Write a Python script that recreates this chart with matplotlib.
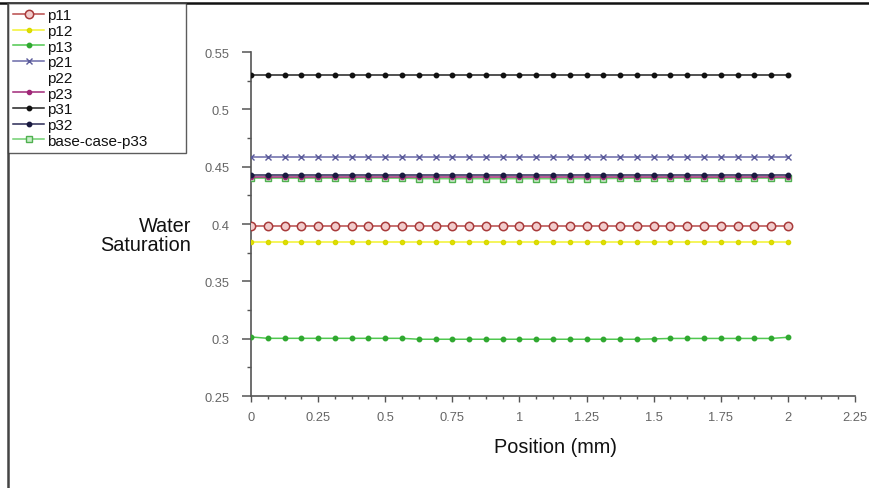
import matplotlib
matplotlib.use("Agg")
import matplotlib.pyplot as plt
from matplotlib.lines import Line2D

plt.rcParams['font.family'] = ['Liberation Sans', 'DejaVu Sans']

position = [0, 0.0625, 0.125, 0.1875, 0.25, 0.3125, 0.375, 0.4375, 0.5, 0.5625,
            0.625, 0.6875, 0.75, 0.8125, 0.875, 0.9375, 1.0, 1.0625, 1.125, 1.1875,
            1.25, 1.3125, 1.375, 1.4375, 1.5, 1.5625, 1.625, 1.6875, 1.75, 1.8125,
            1.875, 1.9375, 2.0]

p11 = [0.398, 0.398, 0.398, 0.398, 0.398, 0.398, 0.398, 0.398, 0.398, 0.398,
       0.398, 0.398, 0.398, 0.398, 0.398, 0.398, 0.398, 0.398, 0.398, 0.398,
       0.398, 0.398, 0.398, 0.398, 0.398, 0.398, 0.398, 0.398, 0.398, 0.398,
       0.398, 0.398, 0.398]
p12 = [0.384, 0.384, 0.384, 0.384, 0.384, 0.384, 0.384, 0.384, 0.384, 0.384,
       0.384, 0.384, 0.384, 0.384, 0.384, 0.384, 0.384, 0.384, 0.384, 0.384,
       0.384, 0.384, 0.384, 0.384, 0.384, 0.384, 0.384, 0.384, 0.384, 0.384,
       0.384, 0.384, 0.384]
p13 = [0.3015, 0.3003, 0.3003, 0.3003, 0.3003, 0.3003, 0.3003, 0.3003, 0.3003, 0.3003,
       0.2995, 0.2995, 0.2995, 0.2995, 0.2995, 0.2995, 0.2995, 0.2995, 0.2995, 0.2995,
       0.2995, 0.2995, 0.2995, 0.2995, 0.2998, 0.3002, 0.3002, 0.3002, 0.3002, 0.3002,
       0.3002, 0.3002, 0.3012]
p21 = [0.4585, 0.4585, 0.4585, 0.4585, 0.4585, 0.4585, 0.4585, 0.4585, 0.4585, 0.4585,
       0.4585, 0.4585, 0.4585, 0.4585, 0.4585, 0.4585, 0.4585, 0.4585, 0.4585, 0.4585,
       0.4585, 0.4585, 0.4585, 0.4585, 0.4585, 0.4585, 0.4585, 0.4585, 0.4585, 0.4585,
       0.4585, 0.4585, 0.4585]
p22 = [0.442, 0.442, 0.442, 0.442, 0.442, 0.442, 0.442, 0.442, 0.442, 0.442,
       0.442, 0.442, 0.442, 0.442, 0.442, 0.442, 0.442, 0.442, 0.442, 0.442,
       0.442, 0.442, 0.442, 0.442, 0.442, 0.442, 0.442, 0.442, 0.442, 0.442,
       0.442, 0.442, 0.442]
p23 = [0.441, 0.441, 0.441, 0.441, 0.441, 0.441, 0.441, 0.441, 0.441, 0.441,
       0.441, 0.441, 0.441, 0.441, 0.441, 0.441, 0.441, 0.441, 0.441, 0.441,
       0.441, 0.441, 0.441, 0.441, 0.441, 0.441, 0.441, 0.441, 0.441, 0.441,
       0.441, 0.441, 0.441]
p31 = [0.5302, 0.5302, 0.5302, 0.5302, 0.5302, 0.5302, 0.5302, 0.5302, 0.5302, 0.5302,
       0.5302, 0.5302, 0.5302, 0.5302, 0.5302, 0.5302, 0.5302, 0.5302, 0.5302, 0.5302,
       0.5302, 0.5302, 0.5302, 0.5302, 0.5302, 0.5302, 0.5302, 0.5302, 0.5302, 0.5302,
       0.5302, 0.5302, 0.5302]
p32 = [0.4428, 0.4428, 0.4428, 0.4428, 0.4428, 0.4428, 0.4428, 0.4428, 0.4428, 0.4428,
       0.4428, 0.4428, 0.4428, 0.4428, 0.4428, 0.4428, 0.4428, 0.4428, 0.4428, 0.4428,
       0.4428, 0.4428, 0.4428, 0.4428, 0.4428, 0.4428, 0.4428, 0.4428, 0.4428, 0.4428,
       0.4428, 0.4428, 0.4428]
p33 = [0.4400, 0.4400, 0.4400, 0.4400, 0.4400, 0.4400, 0.4400, 0.4400, 0.4400, 0.4400,
       0.4396, 0.4395, 0.4395, 0.4395, 0.4395, 0.4395, 0.4395, 0.4395, 0.4395, 0.4395,
       0.4395, 0.4396, 0.4398, 0.4400, 0.4400, 0.4400, 0.4400, 0.4400, 0.4400, 0.4400,
       0.4400, 0.4400, 0.4400]

y_ticks = [0.25, 0.3, 0.35, 0.4, 0.45, 0.5, 0.55]
y_tick_labels = ["0.25", "0.3", "0.35", "0.4", "0.45", "0.5", "0.55"]
x_ticks = [0, 0.25, 0.5, 0.75, 1, 1.25, 1.5, 1.75, 2, 2.25]
x_tick_labels = ["0", "0.25", "0.5", "0.75", "1", "1.25", "1.5", "1.75", "2", "2.25"]

W, H = 870, 489
fig = plt.figure(figsize=(W / 100, H / 100), dpi=100)
ax = fig.add_axes([251 / W, 1 - 397 / H, (855 - 251) / W, (397 - 53) / H])

series = [
    ("p11", p11, dict(color="#b84a4a", marker="o", ms=6, mfc="#f2cccc", mec="#a83a3a", mew=1.1)),
    ("p12", p12, dict(color="#f2f230", marker="o", ms=3, mfc="#e0e000", mec="#d8d800")),
    ("p13", p13, dict(color="#50c850", marker="o", ms=3.2, mfc="#30a830", mec="#30a830")),
    ("p21", p21, dict(color="#6a6aa8", marker="x", ms=5, mec="#5a5a9a", mew=1.0)),
    ("p22", p22, dict(color="white", marker="o", ms=0)),
    ("p23", p23, dict(color="#a02878", marker="o", ms=3, mfc="#a02878", mec="#a02878")),
    ("p31", p31, dict(color="#222222", marker="o", ms=3.2, mfc="#111111", mec="#111111")),
    ("p32", p32, dict(color="#2a2a55", marker="o", ms=3.2, mfc="#1a1a40", mec="#1a1a40")),
    ("base-case-p33", p33, dict(color="#70d070", marker="s", ms=5, mfc="#c8eec8", mec="#50b050", mew=1.0)),
]

handles = []
order_z = {"p22": 1, "base-case-p33": 3, "p23": 4, "p32": 5}
for name, vals, style in series:
    ln, = ax.plot(position, vals, lw=1.1, label=name, zorder=order_z.get(name, 3), **style)
    handles.append(ln)

ax.set_xlim(0, 2.25)
ax.set_ylim(0.25, 0.55)
ax.spines['top'].set_visible(False)
ax.spines['right'].set_visible(False)
for s in ('left', 'bottom'):
    ax.spines[s].set_color('#555555')
    ax.spines[s].set_linewidth(1.2)

ax.set_yticks(y_ticks)
ax.set_yticklabels(y_tick_labels)
ax.set_xticks(x_ticks)
ax.set_xticklabels(x_tick_labels)
ax.set_yticks([0.275, 0.325, 0.375, 0.425, 0.475, 0.525], minor=True)
ax.set_xticks([v for v in position if v not in x_ticks] + [2.0625, 2.125, 2.1875], minor=True)
ax.tick_params(axis='y', which='major', length=6.5, width=1.1, color='#555555',
               labelsize=9.3, labelcolor='#666666', pad=9.0)
ax.tick_params(axis='y', which='minor', length=3, width=1.0, color='#555555')
ax.tick_params(axis='x', which='major', length=4, width=1.0, color='#555555',
               labelsize=9.3, labelcolor='#666666', pad=7)
ax.tick_params(axis='x', which='minor', length=2, width=1.0, color='#555555')

fig.text(191 / W, 1 - 236 / H, "Water\nSaturation", ha='right', va='center',
         fontsize=14.3, color='#111111', linespacing=1.0)
fig.text(555 / W, 1 - 448 / H, "Position (mm)", ha='center', va='center',
         fontsize=14.3, color='#111111')

leg = fig.legend(handles=handles, loc='upper left',
                 bbox_to_anchor=(8 / W, 1 - 152 / H, 178 / W, 148 / H),
                 mode='expand', bbox_transform=fig.transFigure, borderaxespad=0,
                 fontsize=11, frameon=True, fancybox=False, edgecolor='#333333',
                 handlelength=2.0, handletextpad=0.2, labelspacing=0.11,
                 borderpad=0.35, numpoints=1)
leg.get_frame().set_linewidth(1.0)
for t in leg.get_texts():
    t.set_color('#111111')

fig.add_artist(Line2D([0, 1], [1 - 4 / H, 1 - 4 / H], transform=fig.transFigure,
                      color='#111111', lw=1.8))
fig.add_artist(Line2D([8 / W, 8 / W], [0, 1 - 4 / H], transform=fig.transFigure,
                      color='#444444', lw=1.8))

fig.savefig("out.png", dpi=100)
